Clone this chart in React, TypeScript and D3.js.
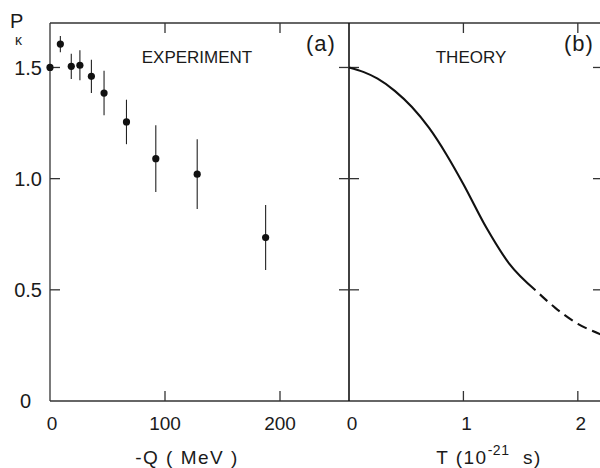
import * as d3 from 'd3'

// panel (a): experiment, -Q in MeV
const expQ = [0, 9, 18.5, 26, 36, 47, 66.5, 92, 128, 187.5]
const expP = [1.5, 1.605, 1.505, 1.51, 1.46, 1.385, 1.255, 1.09, 1.02, 0.735]
const expErr = [0, 0.037, 0.057, 0.067, 0.075, 0.1, 0.1, 0.15, 0.157, 0.146]

// panel (b): theory curve, T in 1e-21 s
const theoryT = [0, 0.13, 0.25, 0.4, 0.55, 0.7, 0.85, 1.0, 1.2, 1.4, 1.63]
const theoryP = [1.5, 1.479, 1.45, 1.395, 1.322, 1.228, 1.11, 0.975, 0.78, 0.618, 0.498]
const extrapT = [1.63, 1.8, 2.0, 2.2]
const extrapP = [0.498, 0.42, 0.347, 0.3]

const yTicks = [0, 0.5, 1.0, 1.5]
const yTickLabels = ['0', '0.5', '1.0', '1.5']
const qTicks = [0, 100, 200]
const tTicks = [0, 1, 2]

const FONT = '"Liberation Sans", Arial, sans-serif'
const INK = '#1a1a1a'
const TICK = 10

export default function App() {
  const y = d3.scaleLinear().domain([0, 1.7]).range([401, 23])
  const xA = d3.scaleLinear().domain([0, 260]).range([50, 349])
  const xB = d3.scaleLinear().domain([0, 2.22]).range([349, 603])

  const top = y(1.7)
  const bottom = y(0)
  const left = xA(0)
  const mid = xB(0)
  const right = xB(2.22)

  const line = d3.line<[number, number]>()
    .x(d => xB(d[0]))
    .y(d => y(d[1]))
    .curve(d3.curveMonotoneX)

  const solid = line(theoryT.map((t, i) => [t, theoryP[i]]))
  const dashed = line(extrapT.map((t, i) => [t, extrapP[i]]))

  return (
    <svg width={600} height={468} style={{ position: 'absolute', left: 0, top: 0, background: '#fff' }}>
      <g stroke="#333" strokeWidth={1.3} fill="none">
        {/* frame */}
        <line x1={left} y1={top} x2={right} y2={top} />
        <line x1={left} y1={bottom} x2={right} y2={bottom} />
        <line x1={left} y1={top} x2={left} y2={bottom} />
        <line x1={mid} y1={top} x2={mid} y2={bottom} stroke="#111" strokeWidth={1.6} />
        <line x1={right} y1={top} x2={right} y2={bottom} />

        {/* y ticks */}
        {yTicks.filter(v => v > 0).map(v => (
          <g key={`yt-${v}`}>
            <line x1={left} y1={y(v)} x2={left + TICK} y2={y(v)} />
            <line x1={mid - TICK} y1={y(v)} x2={mid + TICK} y2={y(v)} />
            <line x1={right - TICK} y1={y(v)} x2={right} y2={y(v)} />
          </g>
        ))}

        {/* x ticks, bottom and top */}
        {qTicks.filter(v => v > 0).map(v => (
          <g key={`qt-${v}`}>
            <line x1={xA(v)} y1={bottom} x2={xA(v)} y2={bottom - TICK} />
            <line x1={xA(v)} y1={top} x2={xA(v)} y2={top + TICK} />
          </g>
        ))}
        {tTicks.filter(v => v > 0).map(v => (
          <g key={`tt-${v}`}>
            <line x1={xB(v)} y1={bottom} x2={xB(v)} y2={bottom - TICK} />
            <line x1={xB(v)} y1={top} x2={xB(v)} y2={top + TICK} />
          </g>
        ))}
      </g>

      {/* experiment points with error bars */}
      <g fill="#111" stroke="#222">
        {expQ.map((q, i) => (
          <g key={`pt-${i}`}>
            {expErr[i] > 0 && (
              <line x1={xA(q)} x2={xA(q)} y1={y(expP[i] + expErr[i])} y2={y(expP[i] - expErr[i])} strokeWidth={1.1} />
            )}
            <circle cx={xA(q)} cy={y(expP[i])} r={3.6} stroke="none" />
          </g>
        ))}
      </g>

      {/* theory curve */}
      <path d={solid ?? ''} fill="none" stroke="#111" strokeWidth={2.1} />
      <path d={dashed ?? ''} fill="none" stroke="#111" strokeWidth={2.1} strokeDasharray="10 6" strokeDashoffset={10} />

      <g fontFamily={FONT} fill={INK}>
        {/* y tick labels */}
        {yTicks.map((v, i) => (
          <text key={`yl-${v}`} x={v === 0 ? 31 : 42} y={y(v)} dy="0.36em" fontSize={20} textAnchor="end">
            {yTickLabels[i]}
          </text>
        ))}

        {/* x tick labels */}
        {qTicks.map(v => (
          <text key={`ql-${v}`} x={xA(v) + (v === 0 ? 2 : 0)} y={430} fontSize={19} textAnchor="middle">{v}</text>
        ))}
        {tTicks.map(v => (
          <text key={`tl-${v}`} x={xB(v) + 3} y={430} fontSize={19} textAnchor="middle">{v}</text>
        ))}

        {/* y axis title */}
        <text x={10} y={28} fontSize={20}>P</text>
        <text x={15} y={45} fontSize={14}>κ</text>

        {/* axis titles */}
        <text x={187} y={464} fontSize={19} textAnchor="middle" letterSpacing={1.5}>-Q ( MeV )</text>
        <text x={489} y={464} fontSize={19} textAnchor="middle" letterSpacing={1.5}>
          T (10<tspan dy={-9} fontSize={14} letterSpacing={0.5}>-21</tspan><tspan dy={9}>{'\u00a0\u00a0'}s)</tspan>
        </text>

        {/* panel labels */}
        <text x={197} y={63} fontSize={17} textAnchor="middle">EXPERIMENT</text>
        <text x={471} y={63} fontSize={17} textAnchor="middle">THEORY</text>
        <text x={321} y={51} fontSize={22} textAnchor="middle" letterSpacing={1}>(a)</text>
        <text x={579} y={51} fontSize={22} textAnchor="middle" letterSpacing={1}>(b)</text>
      </g>
    </svg>
  )
}
